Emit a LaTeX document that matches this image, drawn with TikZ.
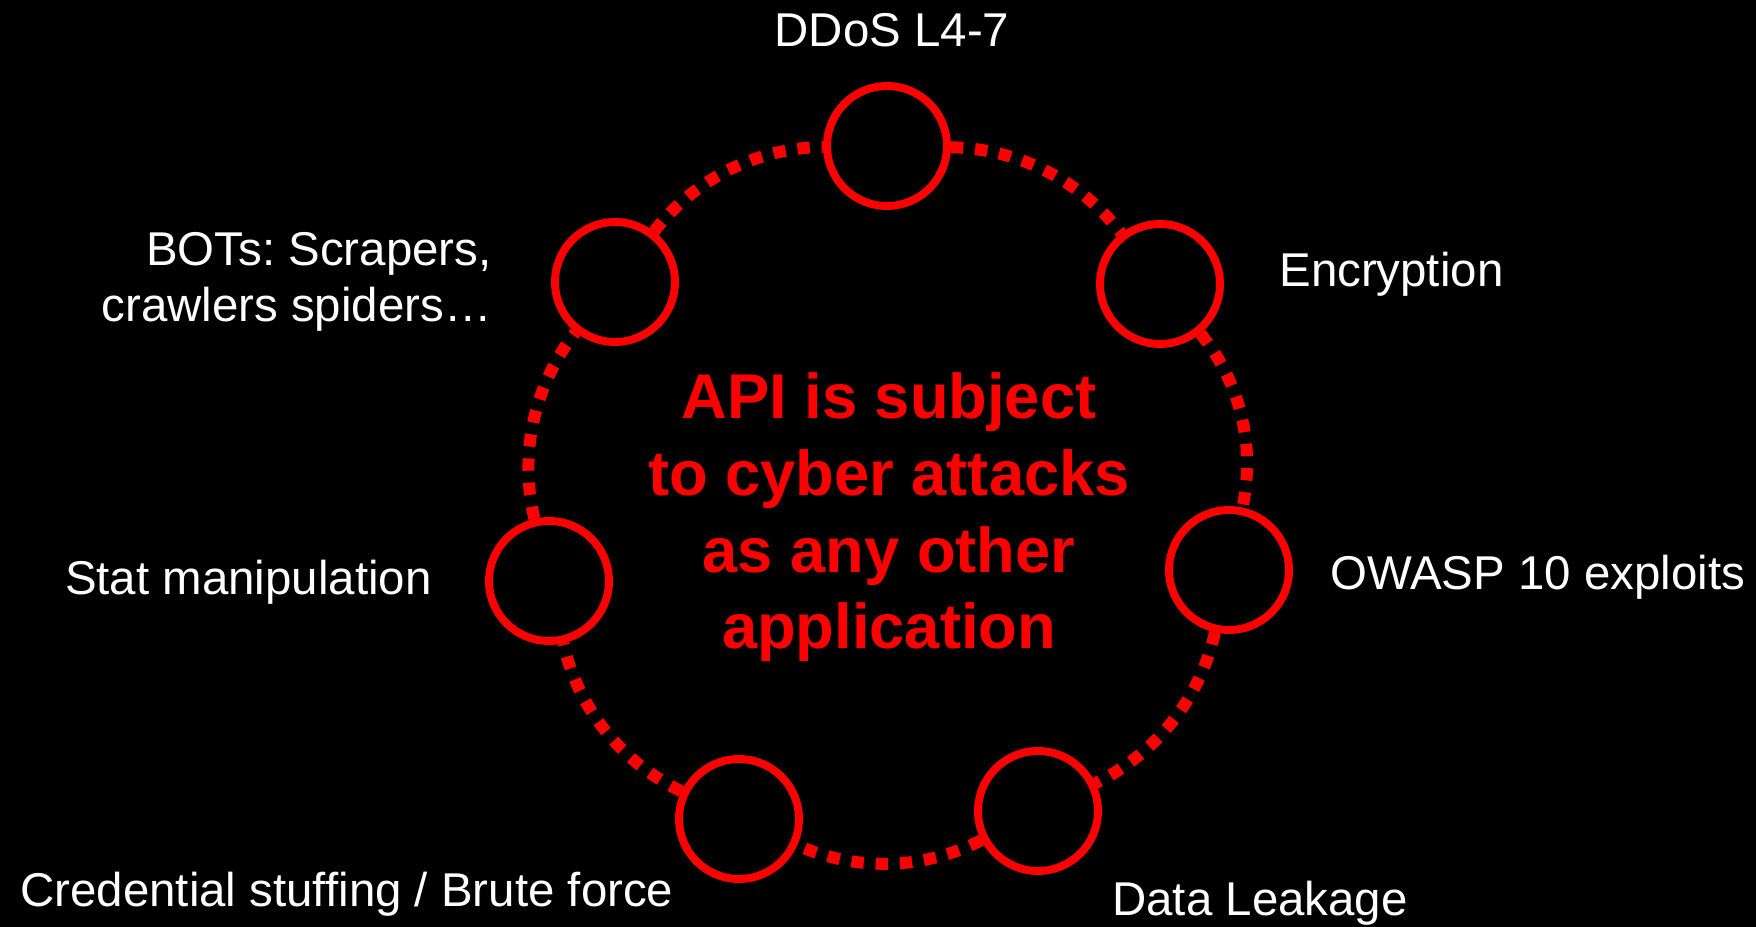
\documentclass[tikz,border=0pt]{standalone}
\usepackage{fontspec}
\setmainfont{Liberation Sans}
\frenchspacing
\usetikzlibrary{calc}
\begin{document}
\begin{tikzpicture}[x=0.02cm,y=0.02cm,
  ring/.style={circle,draw=red,line width=4.5pt,minimum size=2.4cm,inner sep=0pt},
  link/.style={draw=red,line width=6.8pt,dash pattern=on 7pt off 6.8pt},
  lbl/.style={text=white,font=\fontsize{27}{32.4}\selectfont,inner sep=0pt},
  core/.style={text=red,font=\fontsize{36}{43.8}\selectfont\bfseries,align=center,inner sep=0pt}]
\fill[black] (0,0) rectangle (1756,927);
\useasboundingbox (0,0) rectangle (1756,927);
\node[ring] (t)  at (887,781) {};
\node[ring] (ur) at (1160,643) {};
\node[ring] (r)  at (1229,357) {};
\node[ring] (lr) at (1038,116) {};
\node[ring] (ll) at (739,108) {};
\node[ring] (l)  at (549,346) {};
\node[ring] (ul) at (615,645) {};
\draw[link] (t) to[bend left=25.7,looseness=0.9] (ur);
\draw[link] (ur) to[bend left=25.7,looseness=0.9] (r);
\draw[link] (r) to[bend left=25.7,looseness=0.9] (lr);
\draw[link] (lr) to[bend left=25.7,looseness=0.9] (ll);
\draw[link] (ll) to[bend left=25.7,looseness=0.9] (l);
\draw[link] (l) to[bend left=25.7,looseness=0.9] (ul);
\draw[link] (ul) to[bend left=25.7,looseness=0.9] (t);
\node[lbl,anchor=base] (ddos) at (892,880) {DDoS L4-7};
\node[lbl,anchor=base west] (enc) at (1279,640) {Encryption};
\node[lbl,anchor=base west] (owasp) at (1330,337) {OWASP 10 exploits};
\node[lbl,anchor=base west] (leak) at (1112,11) {Data Leakage};
\node[lbl,anchor=base west] (cred) at (20,20) {Credential stuffing / Brute force};
\node[lbl,anchor=base east] (stat) at (432,332) {Stat manipulation};
\node[lbl,align=right,anchor=base east] (bots) at (492,605) {BOTs: Scrapers,\\crawlers spiders…};
\node[core,anchor=base] (api) at (889,278) {API is subject\\to cyber attacks\\as any other\\application};
\end{tikzpicture}
\end{document}
